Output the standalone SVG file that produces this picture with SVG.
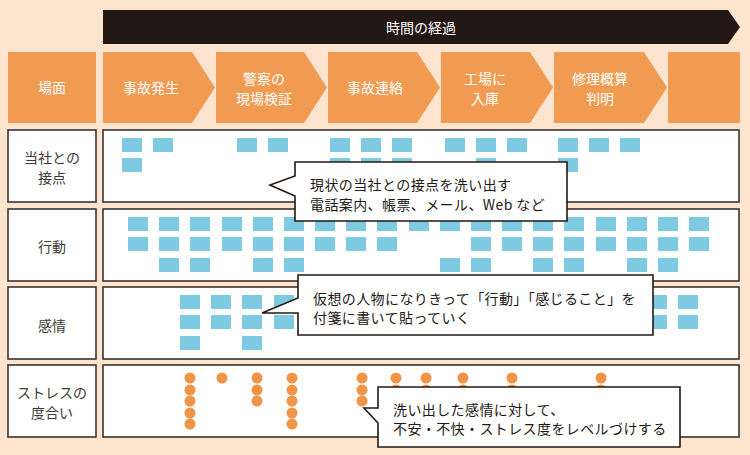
<svg xmlns="http://www.w3.org/2000/svg" xmlns:xlink="http://www.w3.org/1999/xlink" width="750" height="455" viewBox="0 0 750 455">
<defs>
<style>
.bg{fill:#FCE4CF}
.hd{fill:#F19B52}
.wt{fill:#fff;font-family:"Noto Sans CJK JP","Noto Sans",sans-serif;font-size:14px;text-anchor:middle;dominant-baseline:central}
.lb{fill:#3e3a39;font-family:"Noto Sans CJK JP","Noto Sans",sans-serif;font-size:14px;text-anchor:middle;dominant-baseline:central}
.ct{fill:#231815;font-family:"Noto Sans CJK JP","Noto Sans",sans-serif;font-size:14px;letter-spacing:0.4px;dominant-baseline:central}
.box{fill:#fff;stroke:#3a3330;stroke-width:1.6}
.sh{fill:#3a3330}
.co{fill:#fff;stroke:#231815;stroke-width:1.6;stroke-linejoin:miter}
.n{fill:#7FCAE3}
.d{fill:#F19447}
</style>
<rect id="note" width="20" height="14" class="n"/>
<circle id="dot" r="5.5" class="d"/>
</defs>
<rect class="bg" width="750" height="455"/>

<g id="timeline">
<path d="M103,10 H728 L740,27 L728,44 H103 Z" fill="#231815"/>
<text class="wt" x="421" y="27">時間の経過</text>
</g>

<g id="header">
<g id="h-scene"><rect class="hd" x="8" y="52" width="88" height="71"/><text class="wt" x="52" y="87">場面</text></g>
<g id="h-1"><path class="hd" d="M103,52 H192 L215,87.5 L192,123 H103 Z"/><text class="wt" x="151" y="87">事故発生</text></g>
<g id="h-2"><path class="hd" d="M216,52 H304 L327,87.5 L304,123 H216 Z"/><text class="wt" x="264" y="78">警察の</text><text class="wt" x="264" y="98">現場検証</text></g>
<g id="h-3"><path class="hd" d="M328,52 H417 L440,87.5 L417,123 H328 Z"/><text class="wt" x="375" y="87">事故連絡</text></g>
<g id="h-4"><path class="hd" d="M441,52 H530 L553,87.5 L530,123 H441 Z"/><text class="wt" x="485" y="78">工場に</text><text class="wt" x="485" y="98">入庫</text></g>
<g id="h-5"><path class="hd" d="M554,52 H644 L667,87.5 L644,123 H554 Z"/><text class="wt" x="600" y="78">修理概算</text><text class="wt" x="600" y="98">判明</text></g>
<g id="h-6"><rect class="hd" x="668" y="52" width="72" height="71"/></g>
</g>

<g id="row-contact">
<rect class="box" x="8" y="130" width="88" height="72"/>
<text class="lb" x="52" y="157">当社との</text><text class="lb" x="52" y="177">接点</text>
<rect class="box" x="103" y="130" width="636" height="72"/>
<g>
<use href="#note" x="122" y="138"/><use href="#note" x="153" y="138"/><use href="#note" x="237" y="138"/><use href="#note" x="268" y="138"/>
<use href="#note" x="330" y="138"/><use href="#note" x="361" y="138"/><use href="#note" x="392" y="138"/>
<use href="#note" x="445" y="138"/><use href="#note" x="476" y="138"/><use href="#note" x="507" y="138"/>
<use href="#note" x="558" y="138"/><use href="#note" x="589" y="138"/><use href="#note" x="620" y="138"/>
<use href="#note" x="122" y="158"/><use href="#note" x="330" y="158"/><use href="#note" x="361" y="158"/><use href="#note" x="392" y="158"/>
<use href="#note" x="476" y="158"/><use href="#note" x="558" y="158"/>
</g>
</g>

<g id="row-action">
<rect class="box" x="8" y="209" width="88" height="72"/>
<text class="lb" x="52" y="246">行動</text>
<rect class="box" x="103" y="209" width="636" height="72"/>
<g>
<use href="#note" x="128" y="217"/><use href="#note" x="159" y="217"/><use href="#note" x="190" y="217"/><use href="#note" x="222" y="217"/><use href="#note" x="253" y="217"/><use href="#note" x="284" y="217"/><use href="#note" x="315" y="217"/><use href="#note" x="346" y="217"/><use href="#note" x="377" y="217"/><use href="#note" x="409" y="217"/><use href="#note" x="440" y="217"/><use href="#note" x="471" y="217"/><use href="#note" x="502" y="217"/><use href="#note" x="533" y="217"/><use href="#note" x="564" y="217"/><use href="#note" x="596" y="217"/><use href="#note" x="627" y="217"/><use href="#note" x="658" y="217"/><use href="#note" x="689" y="217"/>
<use href="#note" x="128" y="237"/><use href="#note" x="159" y="237"/><use href="#note" x="190" y="237"/><use href="#note" x="222" y="237"/><use href="#note" x="253" y="237"/><use href="#note" x="284" y="237"/><use href="#note" x="315" y="237"/><use href="#note" x="346" y="237"/><use href="#note" x="377" y="237"/><use href="#note" x="471" y="237"/><use href="#note" x="502" y="237"/><use href="#note" x="533" y="237"/><use href="#note" x="564" y="237"/><use href="#note" x="596" y="237"/><use href="#note" x="627" y="237"/><use href="#note" x="658" y="237"/><use href="#note" x="689" y="237"/>
<use href="#note" x="159" y="258"/><use href="#note" x="190" y="258"/><use href="#note" x="253" y="258"/><use href="#note" x="284" y="258"/><use href="#note" x="440" y="258"/><use href="#note" x="471" y="258"/><use href="#note" x="533" y="258"/><use href="#note" x="564" y="258"/><use href="#note" x="627" y="258"/><use href="#note" x="658" y="258"/>
</g>
</g>

<g id="row-feeling">
<rect class="box" x="8" y="287" width="88" height="72"/>
<text class="lb" x="52" y="325">感情</text>
<rect class="box" x="103" y="287" width="636" height="72"/>
<g>
<use href="#note" x="180" y="295"/><use href="#note" x="211" y="295"/><use href="#note" x="242" y="295"/><use href="#note" x="274" y="295"/><use href="#note" x="647" y="295"/><use href="#note" x="678" y="295"/>
<use href="#note" x="180" y="315"/><use href="#note" x="211" y="315"/><use href="#note" x="242" y="315"/><use href="#note" x="274" y="315"/><use href="#note" x="647" y="315"/><use href="#note" x="678" y="315"/>
<use href="#note" x="180" y="336"/><use href="#note" x="242" y="336"/>
</g>
</g>

<g id="row-stress">
<rect class="box" x="8" y="365" width="88" height="72"/>
<text class="lb" x="52" y="392">ストレスの</text><text class="lb" x="52" y="412">度合い</text>
<rect class="box" x="103" y="365" width="636" height="72"/>
<g>
<use href="#dot" x="190" y="378"/><use href="#dot" x="190" y="390"/><use href="#dot" x="190" y="401"/><use href="#dot" x="190" y="413"/><use href="#dot" x="190" y="424"/>
<use href="#dot" x="222" y="378"/>
<use href="#dot" x="257" y="378"/><use href="#dot" x="257" y="390"/><use href="#dot" x="257" y="401"/>
<use href="#dot" x="292" y="378"/><use href="#dot" x="292" y="390"/><use href="#dot" x="292" y="401"/><use href="#dot" x="292" y="413"/><use href="#dot" x="292" y="424"/>
<use href="#dot" x="362" y="378"/><use href="#dot" x="362" y="390"/><use href="#dot" x="362" y="401"/>
<use href="#dot" x="396" y="378"/><use href="#dot" x="396" y="390"/>
<use href="#dot" x="426" y="378"/><use href="#dot" x="426" y="390"/>
<use href="#dot" x="463" y="378"/><use href="#dot" x="463" y="390"/>
<use href="#dot" x="512" y="378"/><use href="#dot" x="512" y="390"/>
<use href="#dot" x="601" y="378"/><use href="#dot" x="601" y="390"/>
</g>
</g>

<g id="callout-contact">
<path class="co" d="M295,162 H567 V221 H295 V196 L270,185 L295,176 Z"/>
<text class="ct" x="310" y="184">現状の当社との接点を洗い出す</text>
<text class="ct" x="310" y="204">電話案内、帳票、メール、Web など</text>
</g>

<g id="callout-feeling">
<path class="co" d="M298,275 H653 V335 H298 V313 L262,313 L298,298 Z"/>
<text class="ct" x="313" y="298">仮想の人物になりきって「行動」「感じること」を</text>
<text class="ct" x="313" y="317">付箋に書いて貼っていく</text>
</g>

<g id="callout-stress">
<path class="co" d="M378,387 H680 V447 H378 V423 L364,408 L378,408 Z"/>
<text class="ct" x="393" y="409">洗い出した感情に対して、</text>
<text class="ct" x="393" y="428">不安・不快・ストレス度をレベルづけする</text>
</g>
</svg>
